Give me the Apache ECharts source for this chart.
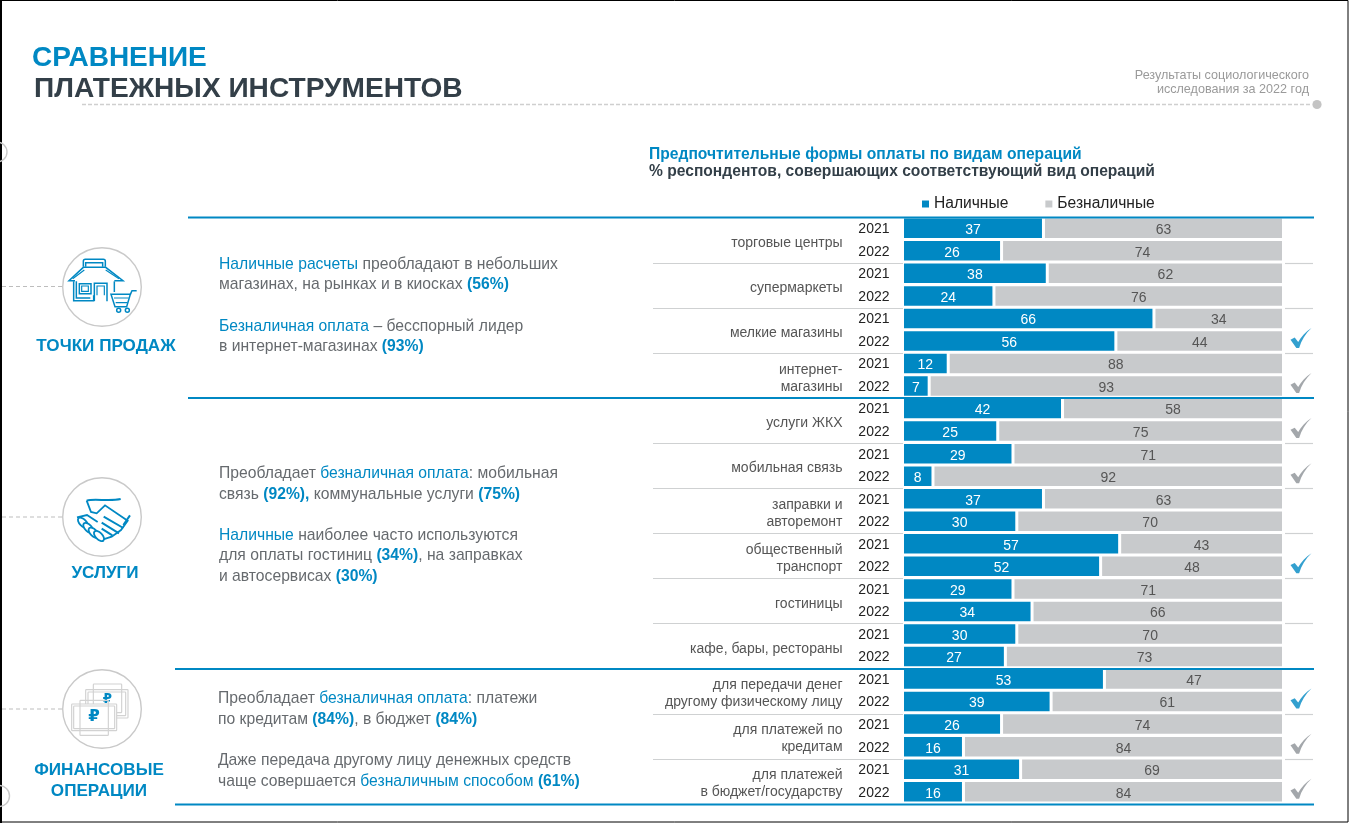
<!DOCTYPE html>
<html><head><meta charset="utf-8">
<style>html,body{margin:0;padding:0;background:#fff;overflow:hidden}#c{width:1349px;height:823px}</style>
<script src="https://cdn.jsdelivr.net/npm/echarts@6/dist/echarts.min.js"></script>
</head><body><div id="c"></div>
<script>
const groups=['торговые центры','супермаркеты','мелкие магазины','интернет-\nмагазины','услуги ЖКХ','мобильная связь','заправки и\nавторемонт','общественный\nтранспорт','гостиницы','кафе, бары, рестораны','для передачи денег\nдругому физическому лицу','для платежей по\nкредитам','для платежей\nв бюджет/государству'];
const years=['2021','2022'];
const cash=[37,26,38,24,66,56,12,7,42,25,29,8,37,30,57,52,29,34,30,27,53,39,26,16,31,16];
const noncash=[63,74,62,76,34,44,88,93,58,75,71,92,63,70,43,48,71,66,70,73,47,61,74,84,69,84];
const checksBlue=[5,15,21];
const checksGray=[7,9,11,23,25];

const BLUE='#0088c3',GRAY='#c8cacc',DARK='#333f48',TXT='#666a6e',FONT='"Liberation Sans",Arial,sans-serif';
const rows=groups.flatMap(()=>years);
const CHECK='path://M0 10.5L3.6 8.6L6.6 12.6C9 8 13 3.5 18 0C13 5 9.2 11 7.4 18L5 18Z';
const FS=15.7;

function T(x,y,text,o={}){return {type:'text',x,y,silent:true,style:Object.assign({text,fontFamily:FONT,fontSize:15,fill:TXT,verticalAlign:'middle',align:'left'},o)};}
const RICH={b:{fill:BLUE,color:BLUE,fontFamily:FONT,fontSize:FS},p:{fill:BLUE,color:BLUE,fontFamily:FONT,fontSize:FS,fontWeight:'bold'},t:{fill:TXT,color:TXT,fontFamily:FONT,fontSize:FS}};
function R(x,y,text){return T(x,y,text,{rich:RICH,fontSize:FS});}
function L(x1,y,x2,c,w,dash){return {type:'line',silent:true,z:100,shape:{x1,y1:y,x2,y2:y},style:{stroke:c,lineWidth:w,lineDash:dash||null}};}
let pid=0;
function P(d,s,w,f){const name='iconPath'+(pid++);echarts.graphic.registerShape(name,echarts.graphic.extendPath(d,{}));return {type:name,silent:true,shape:{},style:{stroke:s||BLUE,lineWidth:w||4.5,fill:f||null}};}
function C(cx,cy,r,c,w){return {type:'circle',silent:true,shape:{cx,cy,r},style:{stroke:c,lineWidth:w,fill:null}};}

const sepGray=[263,308,353,443,488,533,578,623,714,759];
const deco=[];
deco.push({type:'rect',silent:true,shape:{x:0.5,y:0.5,width:1347.5,height:821.5},style:{stroke:'#000',lineWidth:1,fill:null}});
deco.push({type:'rect',silent:true,shape:{x:0,y:0,width:2,height:823},style:{fill:'#000'}});
deco.push(T(32,58,'СРАВНЕНИЕ',{fontSize:28,fontWeight:'bold',fill:BLUE}));
deco.push(T(34,89,'ПЛАТЕЖНЫХ ИНСТРУМЕНТОВ',{fontSize:28.1,fontWeight:'bold',fill:DARK}));
deco.push(L(82,104.5,1312,'#cfcfcf',1.3,[4,2]));
deco.push({type:'circle',silent:true,shape:{cx:1317,cy:104.5,r:4.6},style:{fill:'#c4c4c4'}});
deco.push(T(1309,76,'Результаты социологического',{fontSize:12.6,fill:'#9a9a9a',align:'right'}));
deco.push(T(1309,90,'исследования за 2022 год',{fontSize:12.6,fill:'#9a9a9a',align:'right'}));
deco.push(T(649,154.5,'Предпочтительные формы оплаты по видам операций',{fontSize:15.65,fontWeight:'bold',fill:BLUE}));
deco.push(T(649,171.5,'% респондентов, совершающих соответствующий вид операций',{fontSize:15.62,fontWeight:'bold',fill:DARK}));
sepGray.forEach(y=>{deco.push(L(653,y+.5,903,'#cfd1d2',1.2));deco.push(L(1285,y+.5,1313,'#cfd1d2',1.2));});
deco.push(L(188,217.5,1314,BLUE,2));
deco.push(L(188,398,1314,BLUE,2));
deco.push(L(175,669,1314,BLUE,2));
deco.push(L(175,804.5,1314,BLUE,2));
// left column
deco.push(R(219,265,'{b|Наличные расчеты} {t|преобладают в небольших}'));
deco.push(R(219,285,'{t|магазинах, на рынках и в киосках} {p|(56%)}'));
deco.push(R(219,327,'{b|Безналичная оплата} {t|– бесспорный лидер}'));
deco.push(R(219,347,'{t|в интернет-магазинах} {p|(93%)}'));
deco.push(R(219,474,'{t|Преобладает} {b|безналичная оплата}{t|: мобильная}'));
deco.push(R(219,495,'{t|связь} {p|(92%),} {t|коммунальные услуги} {p|(75%)}'));
deco.push(R(219,536,'{b|Наличные} {t|наиболее часто используются}'));
deco.push(R(219,556,'{t|для оплаты гостиниц} {p|(34%)}{t|, на заправках}'));
deco.push(R(219,577,'{t|и автосервисах} {p|(30%)}'));
deco.push(R(218,699,'{t|Преобладает} {b|безналичная оплата}{t|: платежи}'));
deco.push(R(218,720,'{t|по кредитам} {p|(84%)}{t|, в бюджет} {p|(84%)}'));
deco.push(R(218,761,'{t|Даже передача другому лицу денежных средств}'));
deco.push(R(218,782,'{t|чаще совершается} {b|безналичным способом} {p|(61%)}'));
const H={fontSize:17.1,fontWeight:'bold',fill:BLUE,align:'center'};
deco.push(T(106,346,'ТОЧКИ ПРОДАЖ',H));
deco.push(T(105,573,'УСЛУГИ',H));
deco.push(T(99,770,'ФИНАНСОВЫЕ',H));
deco.push(T(99,791,'ОПЕРАЦИИ',H));
// connectors and icon circles
[[286.5,287],[517,517],[709,709]].forEach(([y,cy])=>{
  deco.push(L(2,y,63,'#bdbdbd',1,[4,3]));
  deco.push(C(102,cy,39.3,'#c9c9c9',1.4));
});
deco.push(C(-3,152,10,'#c9c9c9',1.4));
deco.push(C(-1,796,10.5,'#c9c9c9',1.4));
// shop icon
deco.push({type:'group',x:55,y:240,scaleX:1/3,scaleY:1/3,silent:true,children:[
  P('M85 80L85 64Q85 58 91 58L145 58Q151 58 151 64L151 80'),
  P('M92 80L92 68L143 68L143 80'),
  P('M178 122L204 122L152 82L85 82L42 122L60 122'),
  P('M53 116L88 90M192 116L152 90',BLUE,3.5),
  P('M56 124L56 182L116 182L116 166'),
  P('M64 124L64 174L106 174'),
  P('M73 131L108 131L108 161L73 161Z'),
  P('M80 138L100 138L100 154L80 154Z',BLUE,3.5),
  P('M118 183L118 130L156 130L156 184'),
  P('M126 166L126 138L148 138L148 166',BLUE,3.5),
  P('M178 124L178 156'),
  P('M168 163L226 163L215 200L180 200Z'),
  P('M226 163L231 152L245 152'),
  P('M177 174L221 174M182 188L217 188',BLUE,3.5),
  {type:'circle',shape:{cx:191,cy:211,r:6},style:{stroke:BLUE,lineWidth:4.5,fill:null}},
  {type:'circle',shape:{cx:217,cy:211,r:6},style:{stroke:BLUE,lineWidth:4.5,fill:null}}
]});
// handshake icon
const knuckle=(x,y)=>({type:'ellipse',x,y,rotation:-Math.PI/4,shape:{cx:0,cy:0,rx:19,ry:10},style:{stroke:BLUE,lineWidth:5.5,fill:'#fff'}});
deco.push({type:'group',x:55,y:470,scaleX:1/3,scaleY:1/3,silent:true,children:[
  P('M95 92C120 84 160 96 197 87',BLUE,6),
  P('M95 92L108 126L125 130L150 106L218 152L198 180L170 200L145 208',BLUE,5.5),
  P('M225 136L205 165',BLUE,6),
  P('M146 140L205 174M140 158L192 190M140 176L172 196',BLUE,6),
  P('M66 142L96 135L128 156',BLUE,5.5),
  knuckle(84,158),knuckle(100,174),knuckle(116,188),knuckle(132,198)
]});
// money icon
const G='#d2d2d2';
const rr=(x,y,w,h,f)=>({type:'rect',shape:{x,y,width:w,height:h,r:2},style:{stroke:G,lineWidth:3.5,fill:f||null}});
deco.push({type:'group',x:55,y:662,scaleX:1/3,scaleY:1/3,silent:true,children:[
  rr(115,66,85,86),rr(92,83,127,85),rr(99,90,113,71),
  {type:'text',x:157,y:112,style:{text:'₽',fontFamily:'"DejaVu Sans"',fontWeight:'bold',fontSize:40,fill:BLUE,align:'center',verticalAlign:'middle'}},
  rr(50,126,135,80,'#fff'),rr(56,132,123,68),rr(75,115,85,105),
  {type:'text',x:117,y:165,style:{text:'₽',fontFamily:'"DejaVu Sans"',fontWeight:'bold',fontSize:50,fill:BLUE,align:'center',verticalAlign:'middle'}}
]});

const hiddenCat={type:'category',position:'left',inverse:true,axisLine:{show:false},axisTick:{show:false},splitLine:{show:false}};
const chart=echarts.init(document.getElementById('c'),null,{renderer:'canvas'});
chart.setOption({
  animation:false,
  textStyle:{fontFamily:FONT},
  legend:{left:922,top:196,padding:0,icon:'rect',itemWidth:7,itemHeight:7,itemGap:37,itemStyle:{borderWidth:0},data:['Наличные','Безналичные'],
    textStyle:{fontFamily:FONT,fontSize:15.6,color:'#222'}},
  grid:[
    {left:902.5,top:217,width:381,height:586},
    {left:1285,top:217,width:30,height:586},
    {left:902.5,top:218,width:381,height:586},
    {left:902.5,top:220.5,width:381,height:586}
  ],
  xAxis:[0,1,2,3].map(g=>g===0?{type:'value',min:0,max:100,show:false}:{gridIndex:g,type:'value',min:0,max:1,show:false}),
  yAxis:[
    Object.assign({},hiddenCat,{data:rows,axisLabel:{show:false}}),
    Object.assign({},hiddenCat,{gridIndex:1,data:rows,show:false}),
    Object.assign({},hiddenCat,{gridIndex:2,data:rows,
      axisLabel:{interval:0,margin:13,fontFamily:FONT,fontSize:14,color:'#222'}}),
    Object.assign({},hiddenCat,{gridIndex:3,data:groups,
      axisLabel:{interval:0,margin:60,fontFamily:FONT,fontSize:14,color:'#555',lineHeight:17,align:'right'}})
  ],
  series:[
    {name:'Наличные',type:'bar',stack:'s',barWidth:22.5,xAxisIndex:0,yAxisIndex:0,data:cash,
      itemStyle:{color:BLUE,borderColor:'#fff',borderWidth:1.5},
      label:{show:true,position:'inside',offset:[0,2],color:'#fff',fontFamily:FONT,fontSize:14}},
    {name:'Безналичные',type:'bar',stack:'s',barWidth:22.5,xAxisIndex:0,yAxisIndex:0,data:noncash,
      itemStyle:{color:GRAY,borderColor:'#fff',borderWidth:1.5},
      label:{show:true,position:'inside',offset:[0,2],color:'#555',fontFamily:FONT,fontSize:14}},
    {name:'check1',type:'scatter',xAxisIndex:1,yAxisIndex:1,symbol:CHECK,symbolSize:[21,20],symbolOffset:[1,-3],
      data:checksBlue.map(i=>[0.5,i]),itemStyle:{color:BLUE},silent:true},
    {name:'check2',type:'scatter',xAxisIndex:1,yAxisIndex:1,symbol:CHECK,symbolSize:[21,20],symbolOffset:[1,-3],
      data:checksGray.map(i=>[0.5,i]),itemStyle:{color:'#8c9196'},silent:true}
  ],
  graphic:{elements:deco}
});
</script></body></html>
